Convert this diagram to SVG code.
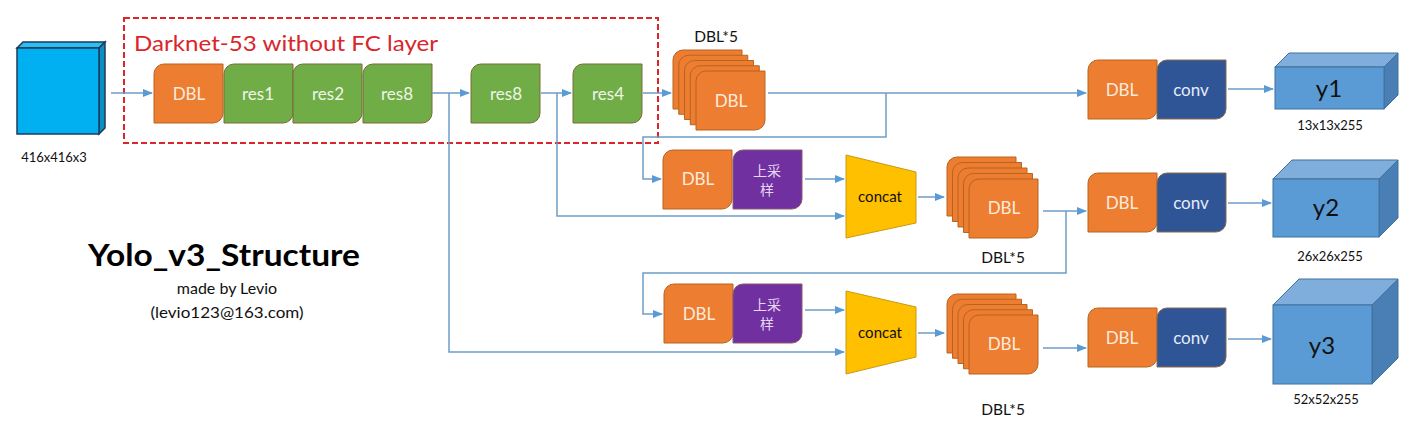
<svg xmlns="http://www.w3.org/2000/svg" xmlns:xlink="http://www.w3.org/1999/xlink" width="1415" height="423" viewBox="0 0 1415 423">
<style>
.t{font-family:Lato,"Open Sans","Liberation Sans",sans-serif;}
.bt{font-family:Lato,"Open Sans","Liberation Sans",sans-serif;font-size:17px;text-anchor:middle;}
.cjk{font-family:"Noto Sans CJK SC",sans-serif;font-size:14px;text-anchor:middle;fill:#E6D8F2;}
.or{fill:#ED7D31;stroke:#B8641E;stroke-width:1;}
.gr{fill:#70AD47;stroke:#7A6A3A;stroke-width:1;}
.nv{fill:#2F5597;stroke:#8A6A4A;stroke-width:1;}
.pu{fill:#7030A0;stroke:#8A5A6A;stroke-width:1;}
.lt{fill:#FCEBDD;}
.lg{fill:#EEF5E8;}
.lb{fill:#E6ECF7;}
.cn{fill:none;stroke:#6E9DC8;stroke-width:1.5;}
.lbl{font-family:Lato,"Open Sans","Liberation Sans",sans-serif;font-size:13px;fill:#111;text-anchor:middle;}
.d5{font-family:Lato,"Open Sans","Liberation Sans",sans-serif;font-size:15.5px;fill:#111;text-anchor:middle;}
</style>
<defs>
<path id="blk" d="M10 0 H69 V49 A10 10 0 0 1 59 59 H0 V10 A10 10 0 0 1 10 0 Z"/>
<marker id="ah" markerUnits="userSpaceOnUse" markerWidth="10" markerHeight="8" refX="9" refY="4" orient="auto">
<path d="M0 0 L10 4 L0 8 Z" fill="#5B9BD5"/>
</marker>
</defs>

<g id="input">
<polygon points="17,48 23,42 105,42 99,48" fill="#2BBEF3" stroke="#1F3B5A" stroke-width="1.5"/>
<polygon points="99,48 105,42 105,128 99,134" fill="#0A8EC4" stroke="#1F3B5A" stroke-width="1.5"/>
<rect x="17" y="48" width="82" height="86" fill="#00B0F0" stroke="#1F3B5A" stroke-width="1.5"/>
<text class="lbl" x="54" y="162">416x416x3</text>
</g>

<g id="darknet">
<rect x="124" y="18" width="534" height="125" fill="none" stroke="#D9262B" stroke-width="2" stroke-dasharray="6,3"/>
<text class="t" x="134" y="51" font-size="22" fill="#D9262B" textLength="304" lengthAdjust="spacingAndGlyphs">Darknet-53 without FC layer</text>
</g>

<g id="dbl0"><use href="#blk" x="154" y="64" class="or"/><text class="bt lt" x="189" y="100">DBL</text></g>
<g id="res1"><use href="#blk" x="224" y="64" class="gr"/><text class="bt lg" x="258" y="100">res1</text></g>
<g id="res2"><use href="#blk" x="293" y="64" class="gr"/><text class="bt lg" x="328" y="100">res2</text></g>
<g id="res8a"><use href="#blk" x="363" y="64" class="gr"/><text class="bt lg" x="397" y="100">res8</text></g>
<g id="res8b"><use href="#blk" x="471" y="64" class="gr"/><text class="bt lg" x="506" y="100">res8</text></g>
<g id="res4"><use href="#blk" x="573" y="64" class="gr"/><text class="bt lg" x="608" y="100">res4</text></g>

<g id="stack1">
<text class="d5" x="716" y="42">DBL*5</text>
<use href="#blk" x="673" y="50" class="or"/>
<use href="#blk" x="678.75" y="55.25" class="or"/>
<use href="#blk" x="684.5" y="60.5" class="or"/>
<use href="#blk" x="690.25" y="65.75" class="or"/>
<use href="#blk" x="696" y="71" class="or"/>
<text class="bt lt" x="731" y="107">DBL</text>
</g>

<g id="dbl2"><use href="#blk" x="663" y="150" class="or"/><text class="bt lt" x="698" y="185">DBL</text></g>
<g id="up2"><use href="#blk" x="733" y="150" class="pu"/><text class="cjk" x="767" y="176">上采</text><text class="cjk" x="767" y="195">样</text></g>
<g id="concat2"><polygon points="846,155 916,172 916,223 846,238" fill="#FFC000" stroke="#C89A10" stroke-width="1"/><text class="t" x="880" y="202" font-size="15" text-anchor="middle" fill="#111">concat</text></g>
<g id="stack2">
<use href="#blk" x="947" y="157" class="or"/>
<use href="#blk" x="952.5" y="162.5" class="or"/>
<use href="#blk" x="958" y="168" class="or"/>
<use href="#blk" x="963.5" y="173.5" class="or"/>
<use href="#blk" x="969" y="179" class="or"/>
<text class="bt lt" x="1004" y="214">DBL</text>
<text class="d5" x="1003" y="263">DBL*5</text>
</g>

<g id="dbl3"><use href="#blk" x="664" y="284" class="or"/><text class="bt lt" x="699" y="320">DBL</text></g>
<g id="up3"><use href="#blk" x="733" y="284" class="pu"/><text class="cjk" x="767" y="310">上采</text><text class="cjk" x="767" y="329">样</text></g>
<g id="concat3"><polygon points="846,291 916,307 916,357 846,374" fill="#FFC000" stroke="#C89A10" stroke-width="1"/><text class="t" x="880" y="338" font-size="15" text-anchor="middle" fill="#111">concat</text></g>
<g id="stack3">
<use href="#blk" x="947" y="294" class="or"/>
<use href="#blk" x="952.5" y="299.25" class="or"/>
<use href="#blk" x="958" y="304.5" class="or"/>
<use href="#blk" x="963.5" y="309.75" class="or"/>
<use href="#blk" x="969" y="315" class="or"/>
<text class="bt lt" x="1004" y="350">DBL</text>
<text class="d5" x="1003" y="415">DBL*5</text>
</g>

<g id="head1"><use href="#blk" x="1088" y="60" class="or"/><text class="bt lt" x="1122" y="96">DBL</text><use href="#blk" x="1157" y="60" class="nv"/><text class="bt lb" x="1191" y="96">conv</text></g>
<g id="head2"><use href="#blk" x="1088" y="173" class="or"/><text class="bt lt" x="1122" y="209">DBL</text><use href="#blk" x="1157" y="173" class="nv"/><text class="bt lb" x="1191" y="209">conv</text></g>
<g id="head3"><use href="#blk" x="1088" y="308" class="or"/><text class="bt lt" x="1122" y="344">DBL</text><use href="#blk" x="1157" y="308" class="nv"/><text class="bt lb" x="1191" y="344">conv</text></g>

<g id="y1">
<polygon points="1275,67 1289,53 1398,53 1384,67" fill="#7FAEDD" stroke="#41719C" stroke-width="1"/>
<polygon points="1384,67 1398,53 1398,95 1384,109" fill="#4A7FB5" stroke="#41719C" stroke-width="1"/>
<rect x="1275" y="67" width="109" height="42" fill="#5B9BD5" stroke="#41719C" stroke-width="1"/>
<text class="t" x="1329" y="97" font-size="24" text-anchor="middle" fill="#111">y1</text>
<text class="lbl" x="1330" y="130">13x13x255</text>
</g>
<g id="y2">
<polygon points="1273,179 1292,160 1398,160 1379,179" fill="#7FAEDD" stroke="#41719C" stroke-width="1"/>
<polygon points="1379,179 1398,160 1398,218 1379,237" fill="#4A7FB5" stroke="#41719C" stroke-width="1"/>
<rect x="1273" y="179" width="106" height="58" fill="#5B9BD5" stroke="#41719C" stroke-width="1"/>
<text class="t" x="1326" y="216" font-size="24" text-anchor="middle" fill="#111">y2</text>
<text class="lbl" x="1330" y="261">26x26x255</text>
</g>
<g id="y3">
<polygon points="1273,305 1299,279 1398,279 1372,305" fill="#7FAEDD" stroke="#41719C" stroke-width="1"/>
<polygon points="1372,305 1398,279 1398,358 1372,384" fill="#4A7FB5" stroke="#41719C" stroke-width="1"/>
<rect x="1273" y="305" width="99" height="79" fill="#5B9BD5" stroke="#41719C" stroke-width="1"/>
<text class="t" x="1322" y="354" font-size="24" text-anchor="middle" fill="#111">y3</text>
<text class="lbl" x="1326" y="404">52x52x255</text>
</g>

<g id="title">
<text class="t" x="224" y="266" font-size="30" font-weight="bold" text-anchor="middle" fill="#000" textLength="272" lengthAdjust="spacingAndGlyphs">Yolo_v3_Structure</text>
<text class="t" x="227" y="294" font-size="16" text-anchor="middle" fill="#111">made by Levio</text>
<text class="t" x="227" y="318" font-size="16" text-anchor="middle" fill="#111" textLength="153" lengthAdjust="spacingAndGlyphs">(levio123@163.com)</text>
</g>

<g id="connectors">
<path class="cn" d="M111 93 H152" marker-end="url(#ah)"/>
<path class="cn" d="M432 93 H469" marker-end="url(#ah)"/>
<path class="cn" d="M449 93 V352 H844" marker-end="url(#ah)"/>
<path class="cn" d="M541 93 H571" marker-end="url(#ah)"/>
<path class="cn" d="M557 93 V216 H844" marker-end="url(#ah)"/>
<path class="cn" d="M643 93 H671" marker-end="url(#ah)"/>
<path class="cn" d="M768 93 H1086" marker-end="url(#ah)"/>
<path class="cn" d="M886 93 V137 H643 V179 H661" marker-end="url(#ah)"/>
<path class="cn" d="M805 179 H844" marker-end="url(#ah)"/>
<path class="cn" d="M918 197 H944" marker-end="url(#ah)"/>
<path class="cn" d="M1043 211 H1086" marker-end="url(#ah)"/>
<path class="cn" d="M1066 211 V273 H643 V314 H662" marker-end="url(#ah)"/>
<path class="cn" d="M805 310 H844" marker-end="url(#ah)"/>
<path class="cn" d="M918 333 H944" marker-end="url(#ah)"/>
<path class="cn" d="M1043 348 H1086" marker-end="url(#ah)"/>
<path class="cn" d="M1228 89 H1273" marker-end="url(#ah)"/>
<path class="cn" d="M1228 203 H1271" marker-end="url(#ah)"/>
<path class="cn" d="M1228 339 H1271" marker-end="url(#ah)"/>
</g>
</svg>
